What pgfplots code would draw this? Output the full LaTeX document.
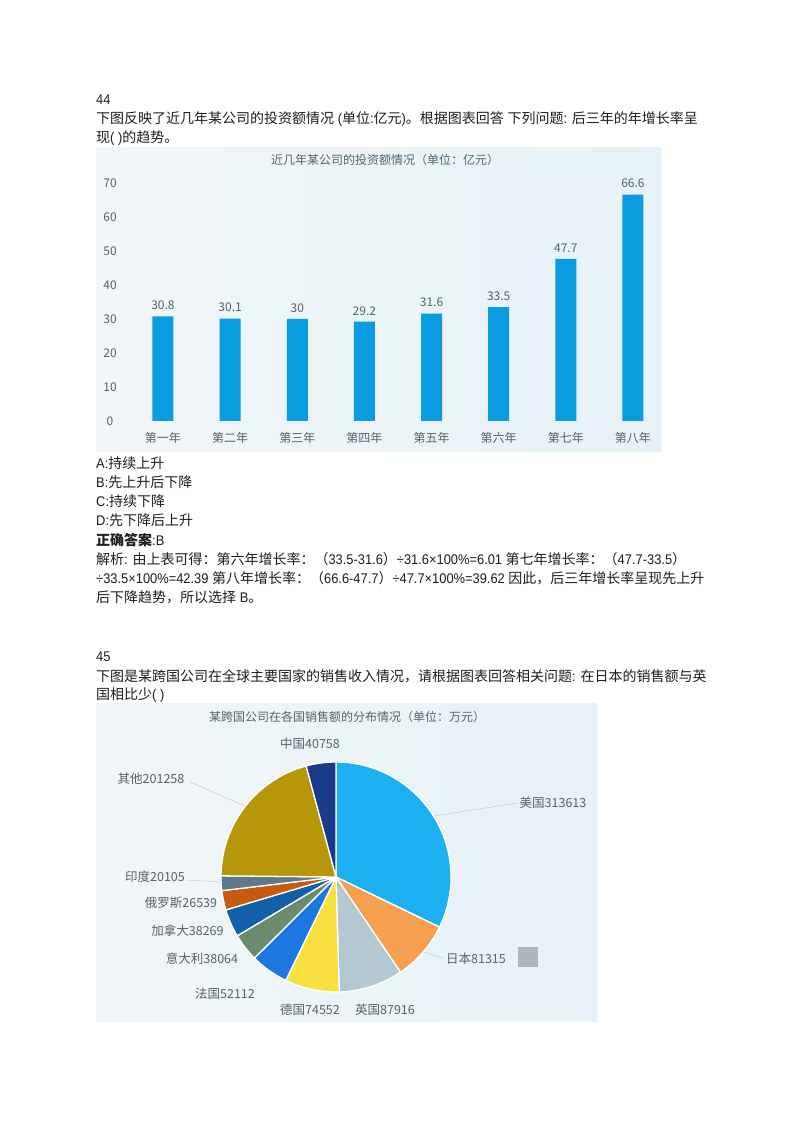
\documentclass[border=0pt]{standalone}
\usepackage{pgfplots}
\pgfplotsset{compat=1.18}
\usepackage{pgfplotstable}
\usepackage{fontspec}
\setmainfont{Noto Sans CJK SC}
\newfontfamily\latfont{Liberation Sans}[FakeStretch=0.92]
\newcommand{\la}[1]{{\latfont #1}}

\definecolor{barblue}{HTML}{0A9BE0}
\definecolor{panelL}{HTML}{F1F6F8}
\definecolor{panelR}{HTML}{E6F2F7}
\definecolor{txtgray}{HTML}{56626B}
\definecolor{body}{HTML}{1E1E1E}
\definecolor{leader}{HTML}{C9D1D5}
\definecolor{legsq}{HTML}{B0B6BE}
\definecolor{cUS}{HTML}{1CB0F0}
\definecolor{cJP}{HTML}{F5A050}
\definecolor{cUK}{HTML}{B4C8D2}
\definecolor{cDE}{HTML}{F8E040}
\definecolor{cFR}{HTML}{1C78E0}
\definecolor{cIT}{HTML}{6B8A6E}
\definecolor{cCA}{HTML}{1460A8}
\definecolor{cRU}{HTML}{C85A10}
\definecolor{cIN}{HTML}{607888}
\definecolor{cOT}{HTML}{B8960A}
\definecolor{cCN}{HTML}{1A3A8A}

\newcommand{\bodyfont}{\fontsize{14}{19}\selectfont}
\newcommand{\chartfont}{\fontsize{12}{13}\selectfont}

% sales by country, clockwise from 12 o'clock
\pgfplotstableread{
value  color
313613 cUS
81315  cJP
87916  cUK
74552  cDE
52112  cFR
38064  cIT
38269  cCA
26539  cRU
20105  cIN
201258 cOT
40758  cCN
}\pietable

\begin{document}
\begin{tikzpicture}[x=1pt,y=1pt]
\fill[white] (0,0) rectangle (800,1132);

% ---- question text ----
\begin{scope}[every node/.style={anchor=west, inner sep=0, font=\bodyfont, text=body}]
\node at (96,1032) {\la{44}};
\node at (96,1013) {下图反映了近几年某公司的投资额情况\la{ (}单位\la{:}亿元\la{)}。根据图表回答\la{ }下列问题\la{: }后三年的年增长率呈};
\node at (96,994) {现\la{( )}的趋势。};
\node at (96,669) {\la{A:}持续上升};
\node at (96,650) {\la{B:}先上升后下降};
\node at (96,631) {\la{C:}持续下降};
\node at (96,612) {\la{D:}先下降后上升};
\node at (96,592) {{\bfseries 正确答案}\la{:B}};
\node at (96,573) {解析\la{: }由上表可得：第六年增长率：（\la{33.5-31.6}）\la{÷31.6×100\%=6.01 }第七年增长率：（\la{47.7-33.5}）};
\node at (96,554) {\la{÷33.5×100\%=42.39 }第八年增长率：（\la{66.6-47.7}）\la{÷47.7×100\%=39.62 }因此，后三年增长率呈现先上升};
\node at (96,535) {后下降趋势，所以选择\la{ B}。};
\node at (96,475) {\la{45}};
\node at (96,456) {下图是某跨国公司在全球主要国家的销售收入情况，请根据图表回答相关问题\la{: }在日本的销售额与英};
\node at (96,437) {国相比少\la{( )}};
\end{scope}

% ---- bar chart panel ----
\shade[left color=panelL, right color=panelR] (96,680) rectangle (661,984);
\node[font=\chartfont, text=txtgray] at (385,972) {近几年某公司的投资额情况（单位：亿元）};

\begin{axis}[
  at={(110pt,694pt)}, anchor=south west,
  scale only axis, width=549.8pt, height=290pt,
  xmin=0.211, xmax=8.4, ymin=-5, ymax=80.3,
  axis line style={draw=none}, major tick length=0pt,
  xtick={1,...,8},
  xticklabels={第一年,第二年,第三年,第四年,第五年,第六年,第七年,第八年},
  ytick={0,10,...,70},
  x tick label style={anchor=center, font=\chartfont, text=txtgray},
  y tick label style={anchor=center, font=\chartfont, text=txtgray},
  /pgf/number format/assume math mode=true,
  ybar, bar width=21pt,
  nodes near coords,
  nodes near coords style={font=\chartfont, text=txtgray, yshift=3pt},
  clip=false,
]
\addplot[fill=barblue, draw=none] coordinates {
(1,30.8) (2,30.1) (3,30) (4,29.2) (5,31.6) (6,33.5) (7,47.7) (8,66.6)
};
\end{axis}

% ---- pie chart panel ----
\shade[left color=panelL, right color=panelR] (96,110) rectangle (597,428);
\node[font=\chartfont, text=txtgray] at (347,415) {某跨国公司在各国销售额的分布情况（单位：万元）};

\begin{axis}[
  at={(336pt,255pt)}, anchor=center,
  hide axis, x=1pt, y=1pt,
  xmin=-120, xmax=120, ymin=-120, ymax=120,
  clip=false,
]
\pgfplotsextra{%
  \pgfplotstablegetrowsof{\pietable}%
  \pgfmathtruncatemacro\lastrow{\pgfplotsretval-1}%
  \gdef\pietotal{0}%
  \foreach \i in {0,...,\lastrow}{%
    \pgfplotstablegetelem{\i}{value}\of\pietable
    \xdef\pietotal{\fpeval{\pietotal+\pgfplotsretval}}%
  }%
  \gdef\piecum{0}%
  \foreach \i in {0,...,\lastrow}{%
    \pgfplotstablegetelem{\i}{value}\of\pietable
    \let\v\pgfplotsretval
    \pgfplotstablegetelem{\i}{color}\of\pietable
    \let\c\pgfplotsretval
    \edef\a{\fpeval{90-\piecum*360/\pietotal}}%
    \edef\b{\fpeval{90-(\piecum+\v)*360/\pietotal}}%
    \filldraw[fill=\c, draw=white, line width=1.3pt, line join=round]
      (axis cs:0,0) -- ++(\a:115pt) arc[start angle=\a, end angle=\b, radius=115pt] -- cycle;
    \xdef\piecum{\fpeval{\piecum+\v}}%
  }%
}
\end{axis}

% leader lines and labels
\begin{scope}[leader, line width=0.6pt]
\draw (190,350) -- (245,326);
\draw (517,329) -- (434,316);
\draw (186,252) -- (221,250);
\draw (423,180) -- (443,174);
\end{scope}
\begin{scope}[every node/.style={font=\fontsize{12.5}{13}\selectfont, text=txtgray, inner sep=0}]
\node at (310,388) {中国40758};
\node at (151,353) {其他201258};
\node at (553,329) {美国313613};
\node at (155,255) {印度20105};
\node at (181,229) {俄罗斯26539};
\node at (187.5,201) {加拿大38269};
\node at (202,173) {意大利38064};
\node at (225,138) {法国52112};
\node at (310,122) {德国74552};
\node at (385,122) {英国87916};
\node at (476,173) {日本81315};
\end{scope}
\fill[legsq] (518,165) rectangle (538,185);
\end{tikzpicture}
\end{document}
